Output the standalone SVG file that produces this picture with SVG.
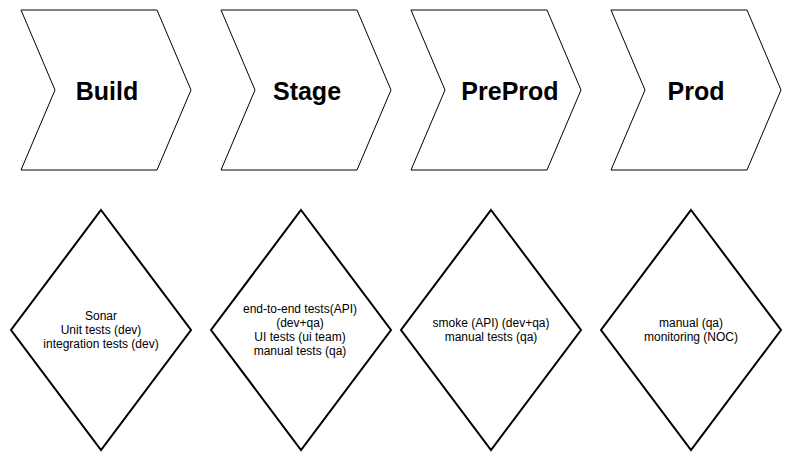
<svg xmlns="http://www.w3.org/2000/svg" width="792" height="462" viewBox="0 0 792 462">
<style>
.chev{fill:#fff;stroke:#000;stroke-width:1}
.dia{fill:#fff;stroke:#000;stroke-width:2}
.lbl{font-family:"Liberation Sans",Arial,sans-serif;font-size:25px;font-weight:bold;text-anchor:middle;fill:#000}
.txt{font-family:"Liberation Sans",Arial,sans-serif;font-size:12px;text-anchor:middle;fill:#000}
</style>
<rect width="792" height="462" fill="#fff"/>
<g id="connectors"></g>
<g id="build"><polygon class="chev" points="21,10 157,10 191,90 157,170 21,170 55,90"/><text class="lbl" x="107" y="100">Build</text></g>
<g id="stage"><polygon class="chev" points="221,10 357,10 391,90 357,170 221,170 255,90"/><text class="lbl" x="307" y="100">Stage</text></g>
<g id="preprod"><polygon class="chev" points="411,10 547,10 581,90 547,170 411,170 445,90"/><text class="lbl" x="510" y="100">PreProd</text></g>
<g id="prod"><polygon class="chev" points="611,10 747,10 781,90 747,170 611,170 645,90"/><text class="lbl" x="696" y="100">Prod</text></g>
<g id="build-tests"><polygon class="dia" points="101,210 191,330 101,450 11,330"/><text class="txt" x="101" y="320">Sonar</text><text class="txt" x="101" y="334">Unit tests (dev)</text><text class="txt" x="101" y="348">integration tests (dev)</text></g>
<g id="stage-tests"><polygon class="dia" points="301,210 391,330 301,450 211,330"/><text class="txt" x="300" y="313">end-to-end tests(API)</text><text class="txt" x="300" y="327">(dev+qa)</text><text class="txt" x="300" y="341">UI tests (ui team)</text><text class="txt" x="300" y="355">manual tests (qa)</text></g>
<g id="preprod-tests"><polygon class="dia" points="491,210 581,330 491,450 401,330"/><text class="txt" x="491" y="327">smoke (API) (dev+qa)</text><text class="txt" x="491" y="341">manual tests (qa)</text></g>
<g id="prod-tests"><polygon class="dia" points="691,210 781,330 691,450 601,330"/><text class="txt" x="691" y="327">manual (qa)</text><text class="txt" x="691" y="341">monitoring (NOC)</text></g>
</svg>
